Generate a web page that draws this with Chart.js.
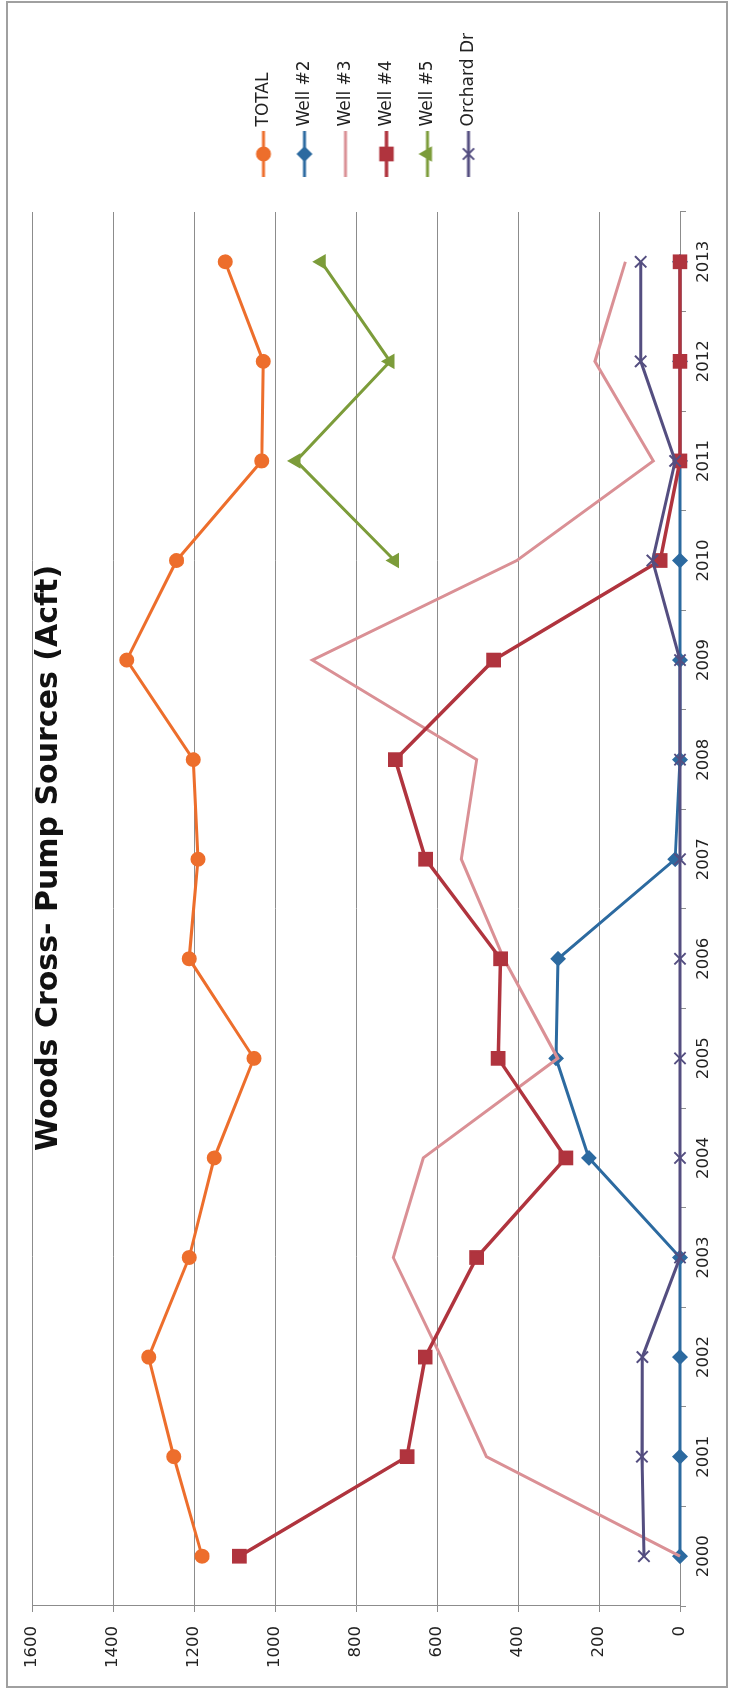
<!DOCTYPE html>
<html>
<head>
<meta charset="utf-8">
<title>Woods Cross- Pump Sources (Acft)</title>
<script src="https://cdn.jsdelivr.net/npm/chart.js@4.4.1/dist/chart.umd.min.js"></script>
<style>
  html, body { margin: 0; padding: 0; background: #fff; width: 732px; height: 1693px; overflow: hidden; }
  #frame { position: absolute; left: 6px; top: 1px; width: 718px; height: 1683px; border: 2px solid #a0a0a0; }
  /* the chart is drawn landscape and turned a quarter turn, like the scanned page */
  #wrap { position: absolute; left: 0; top: 0; width: 1693px; height: 732px;
          transform-origin: 0 0; transform: translate(0, 1693px) rotate(-90deg); }
</style>
</head>
<body>
<div id="frame"></div>
<div id="wrap"><canvas id="chart" width="1693" height="732"></canvas></div>
<script>
const years = ['2000', '2001', '2002', '2003', '2004', '2005', '2006',
               '2007', '2008', '2009', '2010', '2011', '2012', '2013'];
const valueTicks = [0, 200, 400, 600, 800, 1000, 1200, 1400, 1600];

const total   = [1180, 1250, 1312, 1212, 1150, 1052, 1212, 1190, 1202, 1366, 1243, 1033, 1029, 1123];
const well2   = [0, 0, 0, 0, 225, 306, 301, 12, 0, 0, 0, 0, 0, 0];
const well3   = [0, 478, 590, 708, 634, 302, 435, 540, 502, 908, 403, 66, 210, 135];
const well4   = [1088, 674, 629, 502, 282, 449, 443, 628, 703, 460, 49, 0, 0, 0];
const well5   = [null, null, null, null, null, null, null, null, null, null, 705, 948, 716, 886];
const orchard = [89, 94, 93, 0, 0, 0, 0, 0, 0, 0, 68, 12, 97, 97];

const seriesNames = ['TOTAL', 'Well #2', 'Well #3', 'Well #4', 'Well #5', 'Orchard Dr'];
const seriesData = [total, well2, well3, well4, well5, orchard];
const seriesColors = ['#ED6E2C', '#2C6AA0', '#DA9095', '#B0343E', '#7C9C3A', '#544E80'];
const seriesMarkers = ['circle', 'rectRot', false, 'rect', 'triangle', 'crossRot'];
const markerRadius = [6.5, 6.5, 0, 9, 7, 8];
const lineWidths = [3, 3, 3, 3.5, 3, 3];

const FONT = 'DejaVu Sans';
const W = 1693, H = 732;
const plotRight = 1481;
const legendPad = 24, legendBox = 53, legendSize = 17;

// small line+marker pictures used as legend symbols
function legendIcon(i) {
  const c = document.createElement('canvas');
  c.width = 61; c.height = 22;
  const g = c.getContext('2d');
  g.strokeStyle = seriesColors[i];
  g.fillStyle = seriesColors[i];
  g.lineWidth = lineWidths[i];
  g.beginPath(); g.moveTo(15, 11); g.lineTo(61, 11); g.stroke();
  if (seriesMarkers[i]) {
    g.lineWidth = 2;
    Chart.helpers.drawPoint(g, {pointStyle: seriesMarkers[i], radius: markerRadius[i], rotation: 0, borderWidth: 2}, 38, 11);
  }
  return c;
}
const icons = seriesNames.map((n, i) => legendIcon(i));

// legend width decides where the plot stops, so work it out
const meas = document.createElement('canvas').getContext('2d');
meas.font = legendSize + 'px "' + FONT + '"';
const widest = Math.max(...seriesNames.map(n => meas.measureText(n).width));
const legendWidth = legendPad + legendBox + legendSize / 2 + widest + 10;
const padRight = W - plotRight - legendWidth;

const datasets = seriesNames.map((name, i) => ({
  label: name,
  data: seriesData[i],
  borderColor: seriesColors[i],
  backgroundColor: seriesColors[i],
  pointBackgroundColor: seriesColors[i],
  pointBorderColor: seriesColors[i],
  borderWidth: lineWidths[i],
  pointStyle: seriesMarkers[i] || 'circle',
  pointRadius: markerRadius[i],
  pointHoverRadius: markerRadius[i],
  pointBorderWidth: 2,
  tension: 0,
  clip: false,
  order: seriesNames.length - i
}));

new Chart(document.getElementById('chart'), {
  type: 'line',
  data: { labels: years, datasets: datasets },
  options: {
    responsive: false,
    animation: false,
    events: [],
    layout: { padding: { left: 0, top: 0, bottom: 0, right: padRight } },
    plugins: {
      tooltip: { enabled: false },
      title: {
        display: true,
        text: 'Woods Cross- Pump Sources (Acft)',
        color: '#111',
        font: { family: FONT, size: 30, weight: 'bold' },
        padding: { top: 31.5, bottom: -35.5 }
      },
      legend: {
        position: 'right',
        labels: {
          usePointStyle: true,
          pointStyleWidth: legendBox,
          padding: legendPad,
          color: '#222',
          font: { family: FONT, size: legendSize },
          sort: (a, b) => a.datasetIndex - b.datasetIndex,
          generateLabels(chart) {
            const items = Chart.defaults.plugins.legend.labels.generateLabels(chart);
            items.forEach(it => { it.pointStyle = icons[it.datasetIndex]; });
            return items;
          }
        }
      }
    },
    scales: {
      x: {
        offset: true,
        grid: { offset: true, drawOnChartArea: false, tickLength: 6, color: '#8c8c8c' },
        border: { color: '#8c8c8c', width: 1 },
        ticks: { padding: 8, maxRotation: 0, autoSkip: false, color: '#222', font: { family: FONT, size: 16.5 } },
        afterFit(s) { s.height = H - 680; }
      },
      y: {
        min: 0,
        max: 1600,
        afterBuildTicks(s) { s.ticks = valueTicks.map(v => ({ value: v })); },
        grid: { color: '#8c8c8c', lineWidth: 1, tickLength: 6 },
        border: { color: '#8c8c8c', width: 1 },
        ticks: { padding: 14, color: '#222', font: { family: FONT, size: 16.5 }, callback: v => String(v) },
        afterFit(s) { s.width = 87; }
      }
    }
  }
});
</script>
</body>
</html>
